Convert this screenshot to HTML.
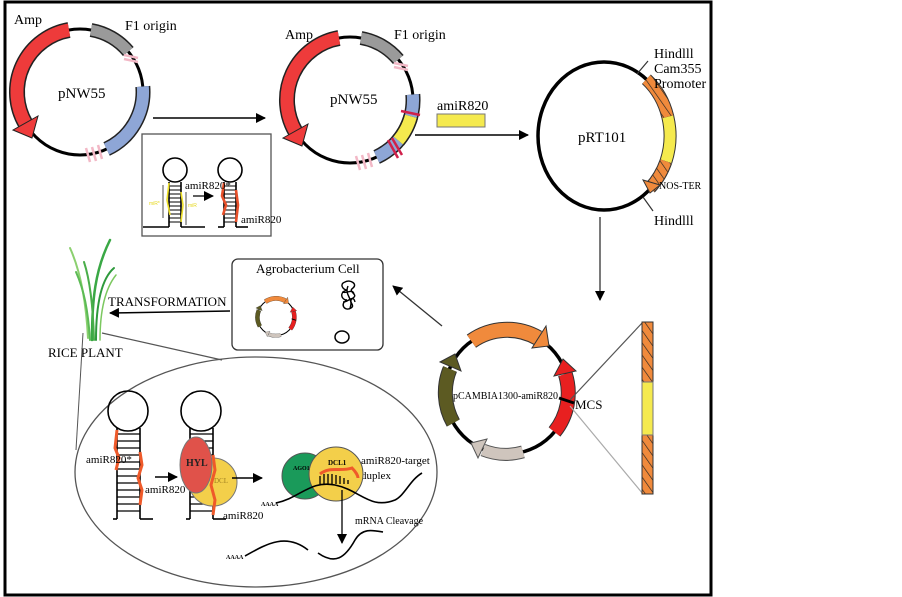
<!DOCTYPE html>
<html><head><meta charset="utf-8"><style>
html,body{margin:0;padding:0;background:#fff;}
svg{display:block;font-family:"Liberation Serif",serif;}
</style></head><body>
<svg width="902" height="597" viewBox="0 0 902 597" xmlns="http://www.w3.org/2000/svg">
<defs>
<marker id="ah" markerWidth="10" markerHeight="10" refX="9" refY="5" orient="auto" markerUnits="userSpaceOnUse"><path d="M0,0 L10,5 L0,10 z" fill="#000"/></marker>
<pattern id="hatch" width="7" height="7" patternUnits="userSpaceOnUse" patternTransform="rotate(-35)"><rect width="7" height="7" fill="#f08a3c"/><line x1="0" y1="0" x2="0" y2="7" stroke="#222" stroke-width="1.3"/></pattern>
<g id="p1">
  <circle cx="80" cy="92" r="63" fill="none" stroke="#000" stroke-width="3"/>
  <path d="M69,30 A63 63 0 0 0 25.4,123.5" fill="none" stroke="#222" stroke-width="16"/>
  <path d="M69,30 A63 63 0 0 0 25.4,123.5" fill="none" stroke="#ee3b3b" stroke-width="13"/>
  <polygon points="32,138 13,130 38,116" fill="#ee3b3b" stroke="#222" stroke-width="1"/>
  <path d="M91,30 A63 63 0 0 1 128.3,51.5" fill="none" stroke="#222" stroke-width="14"/>
  <path d="M91,30 A63 63 0 0 1 128.3,51.5" fill="none" stroke="#9a9a9a" stroke-width="11"/>
  <path d="M142.8,86.5 A63 63 0 0 1 106.6,149" fill="none" stroke="#222" stroke-width="15"/>
  <path d="M142.8,86.5 A63 63 0 0 1 106.6,149" fill="none" stroke="#8ea6d6" stroke-width="12"/>
  <g stroke="#f2b8c6" stroke-width="2.5"><line x1="124" y1="55" x2="138" y2="58"/><line x1="124" y1="59" x2="138" y2="62"/>
  <line x1="86" y1="148" x2="90" y2="162"/><line x1="92" y1="147" x2="96" y2="161"/><line x1="98" y1="145" x2="102" y2="159"/></g>
</g>
<g id="pc">
  <circle cx="507" cy="392" r="62" fill="none" stroke="#000" stroke-width="3.5"/>
  <path d="M471.4,341.2 A62 62 0 0 1 538,338" fill="none" stroke="#333" stroke-width="16"/>
  <path d="M471.4,341.2 A62 62 0 0 1 538,338" fill="none" stroke="#f08a3c" stroke-width="14"/>
  <polygon points="549,346 546,326 532,348" fill="#f08a3c" stroke="#333" stroke-width="1"/>
  <path d="M554.5,431.9 A62 62 0 0 0 565.3,374" fill="none" stroke="#333" stroke-width="15"/>
  <path d="M554.5,431.9 A62 62 0 0 0 565.3,374" fill="none" stroke="#e82020" stroke-width="13"/>
  <polygon points="563,359 576,371 554,376" fill="#e82020" stroke="#333" stroke-width="1"/>
  <path d="M523,451.9 A62 62 0 0 1 483,450" fill="none" stroke="#555" stroke-width="13"/>
  <path d="M523,451.9 A62 62 0 0 1 483,450" fill="none" stroke="#cfc5bd" stroke-width="11"/>
  <polygon points="471,443 478,458 487,439" fill="#cfc5bd" stroke="#555" stroke-width="1"/>
  <path d="M453.3,423 A62 62 0 0 1 450,369" fill="none" stroke="#333" stroke-width="15"/>
  <path d="M453.3,423 A62 62 0 0 1 450,369" fill="none" stroke="#5c5a22" stroke-width="13"/>
  <polygon points="455,354 440,362 461,371" fill="#5c5a22" stroke="#333" stroke-width="1"/>
  <line x1="559" y1="398" x2="574" y2="403" stroke="#000" stroke-width="3"/>
</g>
</defs>
<rect x="5" y="2" width="706" height="593" fill="none" stroke="#000" stroke-width="3"/>

<use href="#p1"/>
<use href="#p1" transform="translate(270,8)"/>
<path d="M410.9,116.3 A63 63 0 0 1 398.3,140.5" fill="none" stroke="#222" stroke-width="15"/>
<path d="M410.9,116.3 A63 63 0 0 1 398.3,140.5" fill="none" stroke="#f5ea4e" stroke-width="12"/>
<g stroke="#d0204a" stroke-width="2.5"><line x1="401" y1="111" x2="420" y2="115"/><line x1="388" y1="140" x2="398" y2="158"/><line x1="392" y1="138" x2="402" y2="155"/></g>

<g font-size="14">
<text x="14" y="24">Amp</text><text x="125" y="30">F1 origin</text>
<text x="58" y="98" font-size="15">pNW55</text>
<text x="285" y="39">Amp</text><text x="394" y="39">F1 origin</text>
<text x="330" y="104" font-size="15">pNW55</text>
</g>
<line x1="153" y1="118" x2="265" y2="118" stroke="#000" stroke-width="1.5" marker-end="url(#ah)"/>

<!-- inset -->
<rect x="142" y="134" width="129" height="102" fill="#fff" stroke="#555" stroke-width="1.3"/>
<g stroke="#000" stroke-width="1.6" fill="none">
<circle cx="175" cy="170" r="12"/><circle cx="230" cy="170" r="12"/>
<line x1="169" y1="182" x2="169" y2="227"/><line x1="181" y1="182" x2="181" y2="227"/>
<line x1="224" y1="182" x2="224" y2="227"/><line x1="236" y1="182" x2="236" y2="227"/>
<line x1="143" y1="227" x2="169" y2="227"/><line x1="181" y1="227" x2="205" y2="227"/>
<line x1="218" y1="227" x2="224" y2="227"/><line x1="236" y1="227" x2="248" y2="227"/>
</g>
<g stroke="#000" stroke-width="1"><path d="M169,186H181M169,190H181M169,194H181M169,198H181M169,202H181M169,206H181M169,210H181M169,214H181M169,218H181M169,222H181M224,186H236M224,190H236M224,194H236M224,198H236M224,202H236M224,206H236M224,210H236M224,214H236M224,218H236M224,222H236"/></g>
<path d="M169,183 L167,200 L170,215 M181,192 L183,205 L181,222" stroke="#eee02a" stroke-width="1.6" fill="none"/>
<path d="M224,183 L222,196 L226,205 L223,215 M236,190 L238,205 L236,222" stroke="#e8502a" stroke-width="2.6" fill="none"/>
<line x1="163" y1="185" x2="163" y2="218" stroke="#888" stroke-width="1.5"/><line x1="186" y1="192" x2="186" y2="225" stroke="#888" stroke-width="1.5"/>
<text x="149" y="205" font-size="5" fill="#e6d820" font-family="Liberation Sans,sans-serif">miR*</text>
<text x="188" y="207" font-size="5" fill="#e6d820" font-family="Liberation Sans,sans-serif">miR</text>
<line x1="193" y1="196" x2="213" y2="196" stroke="#000" stroke-width="1.3" marker-end="url(#ah)"/>
<text x="185" y="189" font-size="11">amiR820*</text>
<text x="241" y="223" font-size="11">amiR820</text>

<!-- amiR820 -->
<text x="437" y="110" font-size="14">amiR820</text>
<rect x="437" y="114" width="48" height="13" fill="#f5ea4e" stroke="#777" stroke-width="1"/>
<line x1="415" y1="135" x2="528" y2="135" stroke="#000" stroke-width="1.5" marker-end="url(#ah)"/>

<!-- pRT101 -->
<ellipse cx="604" cy="136" rx="66" ry="74" fill="none" stroke="#000" stroke-width="3.5"/>
<path d="M646.4,79.3 A66 74 0 0 1 667.8,116.8" fill="none" stroke="#333" stroke-width="13"/>
<path d="M646.4,79.3 A66 74 0 0 1 667.8,116.8" fill="none" stroke="url(#hatch)" stroke-width="11"/>
<path d="M667.8,116.8 A66 74 0 0 1 666,161.3" fill="none" stroke="#333" stroke-width="13"/>
<path d="M667.8,116.8 A66 74 0 0 1 666,161.3" fill="none" stroke="#f5ea4e" stroke-width="11"/>
<path d="M666,161.3 A66 74 0 0 1 650,188" fill="none" stroke="#333" stroke-width="13"/>
<path d="M666,161.3 A66 74 0 0 1 650,188" fill="none" stroke="url(#hatch)" stroke-width="11"/>
<polygon points="650,193 643,180 660,185" fill="#f08a3c" stroke="#333" stroke-width="1"/>
<line x1="637" y1="74" x2="648" y2="61" stroke="#333" stroke-width="1.2"/>
<line x1="643" y1="197" x2="653" y2="211" stroke="#333" stroke-width="1.2"/>
<text x="578" y="142" font-size="15">pRT101</text>
<g font-size="14"><text x="654" y="58">Hindlll</text><text x="654" y="73">Cam355</text><text x="654" y="88">Promoter</text><text x="654" y="225">Hindlll</text></g>
<text x="659" y="189" font-size="10">NOS-TER</text>
<line x1="600" y1="217" x2="600" y2="300" stroke="#333" stroke-width="1.3" marker-end="url(#ah)"/>

<!-- pCAMBIA -->
<use href="#pc"/>
<text x="453" y="399" font-size="10">pCAMBIA1300-amiR820</text>
<text x="575" y="409" font-size="13">MCS</text>
<line x1="570" y1="400" x2="643" y2="322" stroke="#555" stroke-width="1.2"/>
<line x1="570" y1="406" x2="643" y2="494" stroke="#aaa" stroke-width="1.2"/>
<rect x="642" y="322" width="11" height="172" fill="url(#hatch)" stroke="#333" stroke-width="1"/>
<rect x="642" y="382" width="11" height="53" fill="#f5ea4e" stroke="#777" stroke-width="1"/>
<line x1="442" y1="326" x2="393" y2="286" stroke="#333" stroke-width="1.3" marker-end="url(#ah)"/>

<!-- agrobacterium -->
<rect x="232" y="259" width="151" height="91" rx="6" fill="#fff" stroke="#333" stroke-width="1.3"/>
<text x="256" y="273" font-size="13">Agrobacterium Cell</text>
<use href="#pc" transform="translate(123.9,199.4) scale(0.3)"/>
<path d="M345,282 c-6,2 -2,8 2,8 c-8,2 -6,10 0,10 c-8,4 -2,12 4,8 c5,-3 -4,-6 2,-10 c6,-4 -6,-6 0,-10 c5,-4 -3,-9 -8,-6 z M342,292 c6,2 10,-4 12,2 M343,302 c6,0 10,-8 12,0 M348,286 c-4,10 6,12 2,22" fill="none" stroke="#000" stroke-width="1.4"/>
<ellipse cx="342" cy="337" rx="7" ry="6" fill="none" stroke="#000" stroke-width="1.5"/>
<text x="108" y="306" font-size="13">TRANSFORMATION</text>
<line x1="230" y1="311" x2="110" y2="313" stroke="#000" stroke-width="1.5" marker-end="url(#ah)"/>

<!-- rice plant -->
<g fill="none" stroke-linecap="round">
<path d="M88,338 C86,300 80,270 70,248" stroke="#8cd070" stroke-width="2"/>
<path d="M92,340 C92,300 95,270 110,240" stroke="#3aa845" stroke-width="2.5"/>
<path d="M96,340 C96,310 100,280 114,268" stroke="#2e9a3c" stroke-width="2"/>
<path d="M90,340 C88,310 84,290 76,272" stroke="#5cbb55" stroke-width="2"/>
<path d="M100,340 C100,315 104,290 116,275" stroke="#7cc860" stroke-width="1.5"/>
<path d="M94,340 C93,305 90,280 84,262" stroke="#4aae4a" stroke-width="2"/>
</g>
<text x="48" y="357" font-size="13">RICE PLANT</text>
<line x1="83" y1="333" x2="76" y2="450" stroke="#555" stroke-width="1"/>
<line x1="102" y1="333" x2="222" y2="360" stroke="#555" stroke-width="1.2"/>

<!-- big ellipse -->
<ellipse cx="256" cy="472" rx="181" ry="115" fill="none" stroke="#555" stroke-width="1.3"/>
<g stroke="#000" stroke-width="1.6" fill="none">
<circle cx="128" cy="411" r="20"/><circle cx="201" cy="411" r="20"/>
<line x1="117" y1="428" x2="117" y2="519"/><line x1="140" y1="428" x2="140" y2="519"/>
<line x1="113" y1="519" x2="117" y2="519"/><line x1="140" y1="519" x2="153" y2="519"/>
<line x1="190" y1="428" x2="190" y2="519"/><line x1="213" y1="428" x2="213" y2="519"/>
<line x1="186" y1="519" x2="190" y2="519"/><line x1="213" y1="519" x2="226" y2="519"/>
</g>
<g stroke="#000" stroke-width="1.2"><path d="M117,434H140M117,441H140M117,448H140M117,455H140M117,462H140M117,469H140M117,476H140M117,483H140M117,490H140M117,497H140M117,504H140M117,511H140M190,434H213M190,441H213M190,448H213M190,455H213M190,462H213M190,469H213M190,476H213M190,483H213M190,490H213M190,497H213M190,504H213M190,511H213"/></g>
<path d="M117,430 L115,448 L119,458 L116,470 M140,452 L142,465 L138,478 L142,490 L140,505" stroke="#ef5a2a" stroke-width="3" fill="none"/>
<circle cx="213" cy="482" r="24" fill="#f3cf4a" stroke="#777" stroke-width="1"/>
<ellipse cx="196" cy="465" rx="16" ry="28" fill="#e0524a" stroke="#777" stroke-width="1"/>
<path d="M213,455 L215,470 L211,485 L215,500 L213,515" stroke="#ef5a2a" stroke-width="3" fill="none"/>
<text x="186" y="466" font-size="10" font-weight="bold" fill="#222">HYL</text>
<text x="214" y="483" font-size="7" fill="#a08020">DCL</text>
<line x1="155" y1="477" x2="177" y2="477" stroke="#000" stroke-width="1.5" marker-end="url(#ah)"/>
<line x1="232" y1="478" x2="262" y2="478" stroke="#000" stroke-width="1.5" marker-end="url(#ah)"/>
<g font-size="11"><text x="86" y="463">amiR820*</text><text x="145" y="493">amiR820</text><text x="223" y="519">amiR820</text>
<text x="361" y="464">amiR820-target</text><text x="361" y="479">duplex</text></g>
<circle cx="305" cy="476" r="23" fill="#1a9a5a" stroke="#555" stroke-width="1"/>
<circle cx="336" cy="474" r="27" fill="#f3cf4a" stroke="#555" stroke-width="1"/>
<text x="293" y="470" font-size="6" font-weight="bold">AGO1</text>
<text x="328" y="465" font-size="7" font-weight="bold">DCL1</text>
<g stroke="#000" stroke-width="1.3"><path d="M320,484V476M324,484V474M328,484V474M332,484V474M336,484V475M340,484V476M344,484V478M348,484V480"/></g>
<path d="M320,474 C330,466 340,472 352,468 C356,472 358,476 358,478" stroke="#ef5a2a" stroke-width="3" fill="none"/>
<path d="M276,503 C300,498 310,480 335,485 C360,490 370,510 395,500 C405,495 410,480 422,473" stroke="#000" stroke-width="1.6" fill="none"/>
<text x="261" y="506" font-size="6" font-weight="bold">AAAA</text>
<line x1="342" y1="490" x2="342" y2="543" stroke="#000" stroke-width="1.3" marker-end="url(#ah)"/>
<text x="355" y="524" font-size="10">mRNA Cleavage</text>
<path d="M245,556 C265,545 285,532 308,550 M318,553 C335,565 345,558 355,540 C362,528 372,530 383,532" stroke="#000" stroke-width="1.6" fill="none"/>
<text x="226" y="559" font-size="6" font-weight="bold">AAAA</text>
</svg>
</body></html>
